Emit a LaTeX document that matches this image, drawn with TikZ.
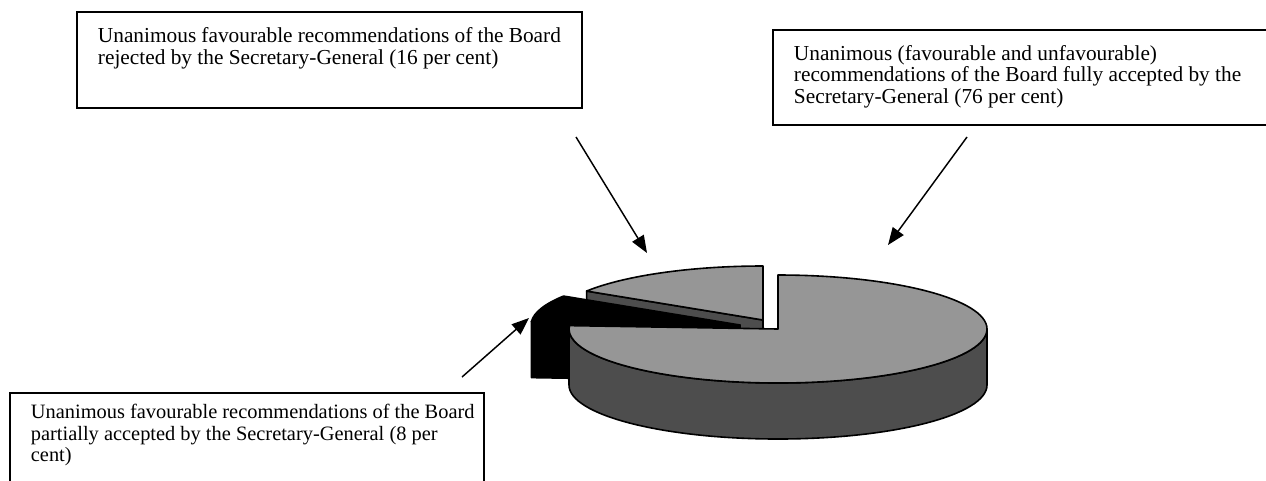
\documentclass[tikz,border=0pt]{standalone}
\usepackage{fontspec}
\setmainfont{Liberation Serif}
\usetikzlibrary{arrows.meta}
\definecolor{pielight}{HTML}{969696}
\definecolor{piedark}{HTML}{4D4D4D}
\newcommand{\bxt}[4]{\parbox[t][#2][t]{#1}{\raggedright\hbadness=10000\hfuzz=30pt\vspace*{#3}\strut#4}}
\begin{document}
\begin{tikzpicture}[x=0.75pt,y=0.75pt,
  tbox/.style={draw, line width=1.4pt, anchor=north west, inner xsep=15.75pt, inner ysep=0pt,
    font={\fontsize{16pt}{16.125pt}\selectfont}},
  arr/.style={line width=1.1pt, -{Triangle[length=13pt,width=10pt]}},
  pie/.style={draw=black, line width=1.2pt, line join=round}]
\useasboundingbox (0,0) rectangle (1266,-480);

% text boxes
\node[tbox] (rej) at (76,-11) {\bxt{347.25pt}{72pt}{11.96pt}{Unanimous favourable recommendations of the Board\\rejected by the Secretary-General (16 per cent)}};
\node[tbox] (full) at (772,-29) {\bxt{351pt}{71.25pt}{11.5pt}{Unanimous (favourable and unfavourable)\\recommendations of the Board fully accepted by the\\Secretary-General (76 per cent)}};
\node[tbox, font={\fontsize{15.3pt}{16.125pt}\selectfont}] (part) at (9,-392) {\bxt{324pt}{75pt}{8.2pt}{\mbox{Unanimous favourable recommendations of the Board}\\partially accepted by the Secretary-General (8 per\\cent)}};

% pie: 16 per cent slice (exploded, back)
\path[pie, fill=piedark] (763,-320) -- ++(147.6:209 and 54) -- ++(0,-56) -- (763,-376) -- cycle;
\path[pie, fill=pielight] (763,-320) -- (763,-266) arc[start angle=90, end angle=147.6, x radius=209, y radius=54] -- cycle;
% pie: 8 per cent slice (black)
\path[pie, fill=black] (740,-325) -- ++(176.4:209 and 54) -- ++(0,-56) -- (740,-381) -- cycle;
\path[pie, fill=black] (740,-325) -- ++(147.6:209 and 54) arc[start angle=147.6, end angle=176.4, x radius=209, y radius=54] -- cycle;
% pie: 76 per cent slice
\path[pie, fill=piedark] (569,-329) arc[start angle=180, end angle=360, x radius=209, y radius=54] -- ++(0,-56) arc[start angle=0, end angle=-180, x radius=209, y radius=54] -- cycle;
\path[pie, fill=pielight] (778,-329) -- (778,-275) arc[start angle=90, end angle=-183.6, x radius=209, y radius=54] -- cycle;

% arrows
\coordinate (a1s) at (576,-137);
\coordinate (a1e) at (647,-253);
\coordinate (a2s) at (967,-137);
\coordinate (a2e) at (888,-245);
\coordinate (a3s) at (462,-377);
\coordinate (a3e) at (529,-318);
\draw[arr] (a1s) -- (a1e);
\draw[arr] (a2s) -- (a2e);
\draw[arr] (a3s) -- (a3e);
\end{tikzpicture}
\end{document}
